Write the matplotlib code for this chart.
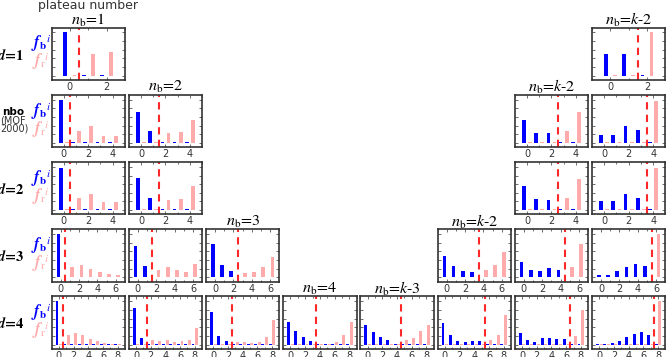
import numpy as np
import matplotlib
matplotlib.use('Agg')
import matplotlib.pyplot as plt
from matplotlib.ticker import MultipleLocator

plt.rcParams['mathtext.fontset'] = 'stix'
plt.rcParams['font.family'] = 'DejaVu Sans'

# bar heights, one list per panel
# tiny 0.008 entries are the little stubs below the threshold
row_names = ['d1', 'nbo', 'd2', 'd3', 'd4']
row_cols = {'d1': [0, 7], 'nbo': [0, 1, 6, 7], 'd2': [0, 1, 6, 7],
            'd3': [0, 1, 2, 5, 6, 7], 'd4': [0, 1, 2, 3, 4, 5, 6, 7]}
row_nb = {'d1': [1, 2], 'nbo': [1, 2, 3, 4], 'd2': [1, 2, 3, 4],
          'd3': [1, 2, 3, 4, 5, 6], 'd4': [1, 2, 3, 4, 5, 6, 7, 8]}

fb_d1 = [[0.50, 0.008, 0.008],
         [0.25, 0.25, 0.008]]
fr_d1 = [[0.008, 0.25, 0.27],
         [0.008, 0.008, 0.50]]

fb_nbo = [[0.50, 0.008, 0.008, 0.008, 0.008],
          [0.36, 0.135, 0.008, 0.008, 0.008],
          [0.27, 0.12, 0.11, 0.008, 0.008],
          [0.09, 0.09, 0.19, 0.145, 0.008]]
fr_nbo = [[0.008, 0.14, 0.19, 0.085, 0.085],
          [0.008, 0.008, 0.11, 0.125, 0.27],
          [0.008, 0.008, 0.008, 0.14, 0.36],
          [0.008, 0.008, 0.008, 0.008, 0.49]]

fb_d2 = [[0.49, 0.008, 0.008, 0.008, 0.008],
         [0.37, 0.14, 0.008, 0.008, 0.008],
         [0.275, 0.125, 0.115, 0.008, 0.008],
         [0.10, 0.10, 0.19, 0.145, 0.008]]
fr_d2 = [[0.008, 0.145, 0.19, 0.09, 0.09],
         [0.008, 0.008, 0.115, 0.125, 0.275],
         [0.008, 0.008, 0.008, 0.14, 0.36],
         [0.008, 0.008, 0.008, 0.008, 0.49]]

fb_d3 = [[0.50, 0.008, 0.008, 0.008, 0.008, 0.008, 0.008],
         [0.367, 0.129, 0.008, 0.008, 0.008, 0.008, 0.008],
         [0.39, 0.14, 0.072, 0.008, 0.008, 0.008, 0.008],
         [0.246, 0.136, 0.076, 0.061, 0.008, 0.008, 0.008],
         [0.174, 0.08, 0.076, 0.11, 0.08, 0.008, 0.008],
         [0.023, 0.027, 0.076, 0.114, 0.159, 0.133, 0.008]]
fr_d3 = [[0.008, 0.12, 0.14, 0.10, 0.064, 0.034, 0.023],
         [0.008, 0.008, 0.083, 0.114, 0.083, 0.064, 0.155],
         [0.008, 0.008, 0.008, 0.053, 0.06, 0.125, 0.235],
         [0.008, 0.008, 0.008, 0.008, 0.08, 0.144, 0.288],
         [0.008, 0.008, 0.008, 0.008, 0.008, 0.125, 0.383],
         [0.008, 0.008, 0.008, 0.008, 0.008, 0.008, 0.504]]

fb_d4 = [[0.50, 0.008, 0.008, 0.008, 0.008, 0.008, 0.008, 0.008, 0.008],
         [0.424, 0.076, 0.008, 0.008, 0.008, 0.008, 0.008, 0.008, 0.008],
         [0.371, 0.098, 0.042, 0.008, 0.008, 0.008, 0.008, 0.008, 0.008],
         [0.265, 0.155, 0.086, 0.045, 0.008, 0.008, 0.008, 0.008, 0.008],
         [0.22, 0.144, 0.087, 0.049, 0.011, 0.008, 0.008, 0.008, 0.008],
         [0.25, 0.106, 0.042, 0.027, 0.045, 0.042, 0.008, 0.008, 0.008],
         [0.136, 0.057, 0.034, 0.072, 0.072, 0.068, 0.068, 0.008, 0.008],
         [0.008, 0.008, 0.019, 0.038, 0.087, 0.117, 0.144, 0.106, 0.008]]
fr_d4 = [[0.008, 0.11, 0.129, 0.11, 0.064, 0.038, 0.019, 0.008, 0.008],
         [0.008, 0.008, 0.053, 0.045, 0.053, 0.03, 0.045, 0.057, 0.189],
         [0.008, 0.008, 0.008, 0.034, 0.027, 0.015, 0.034, 0.091, 0.288],
         [0.008, 0.008, 0.008, 0.008, 0.009, 0.012, 0.03, 0.105, 0.26],
         [0.008, 0.008, 0.008, 0.008, 0.008, 0.049, 0.08, 0.152, 0.227],
         [0.008, 0.008, 0.008, 0.008, 0.008, 0.008, 0.049, 0.114, 0.345],
         [0.008, 0.008, 0.008, 0.008, 0.008, 0.008, 0.008, 0.102, 0.40],
         [0.008, 0.008, 0.008, 0.008, 0.008, 0.008, 0.008, 0.008, 0.504]]

fb_rows = {'d1': fb_d1, 'nbo': fb_nbo, 'd2': fb_d2, 'd3': fb_d3, 'd4': fb_d4}
fr_rows = {'d1': fr_d1, 'nbo': fr_nbo, 'd2': fr_d2, 'd3': fr_d3, 'd4': fr_d4}

# (row, col, label) of the plateau titles
titles = [(0, 0, '1'), (0, 7, 'k-2'), (1, 1, '2'), (1, 6, 'k-2'),
          (3, 2, '3'), (3, 5, 'k-2'), (4, 3, '4'), (4, 4, 'k-3')]

BLUE = '#0000ff'
PINK = '#ffabab'
RED = '#ff2828'
FRAME = '#333333'

W, H = 666, 357
fig = plt.figure(figsize=(W / 100, H / 100), dpi=100)


def px_axes(x, y, w, h):
    return fig.add_axes([x / W, 1 - (y + h) / H, w / W, h / H])


def draw_panel(ax, fb, fr, nb):
    k = len(fb)
    idx = np.arange(k)
    bw = min(3.7 * (k + 1) / ax_w, 0.4)
    ax.bar(idx - 0.25, fb, width=bw, color=BLUE)
    ax.bar(idx + 0.25, fr, width=bw, color=PINK)
    ax.axvline(nb - 0.5, color=RED, ls=(0, (3.5, 2.5)), lw=1.5)
    ax.set_xlim(-1, k)
    ax.set_ylim(-0.049, 0.557)
    ax.xaxis.set_major_locator(MultipleLocator(2))
    ax.xaxis.set_minor_locator(MultipleLocator(1))
    ax.yaxis.set_major_locator(MultipleLocator(0.1))
    ax.set_yticklabels([])
    ax.tick_params(which='both', direction='in', top=True, right=True,
                   color='#555555', width=0.6, labelsize=7, pad=1.5,
                   labelcolor='#333333')
    ax.tick_params(which='major', length=2.5)
    ax.tick_params(which='minor', length=1.5)
    for s in ax.spines.values():
        s.set_color(FRAME)
        s.set_linewidth(1.2)


col_x0, col_dx, ax_w = 51.5, 77.2, 73.5
row_y0, row_dy, ax_h = 27.5, 67.2, 52.5

for r, name in enumerate(row_names):
    for j, c in enumerate(row_cols[name]):
        ax = px_axes(col_x0 + c * col_dx, row_y0 + r * row_dy, ax_w, ax_h)
        draw_panel(ax, fb_rows[name][j], fr_rows[name][j], row_nb[name][j])

    top = row_y0 + r * row_dy
    fig.text(41 / W, 1 - (top + 16.5) / H, r'$\mathbfit{f}_{\mathbf{b}}{}^{i}$',
             color=BLUE, fontsize=11.5, ha='center', va='center')
    fig.text(41 / W, 1 - (top + 34.5) / H, r'$\mathbfit{f}_{\mathrm{r}}{}^{i}$',
             color=PINK, fontsize=11.5, ha='center', va='center')
    if name == 'nbo':
        fig.text(2 / W, 1 - (top + 17) / H, 'nbo', fontsize=7.5, weight='bold',
                 ha='left', va='center')
        fig.text(0 / W, 1 - (top + 26) / H, '(MOF', fontsize=7,
                 ha='left', va='center', color='#333333')
        fig.text(0 / W, 1 - (top + 34) / H, '2000)', fontsize=7,
                 ha='left', va='center', color='#333333')
    else:
        fig.text(24.5 / W, 1 - (top + 27.5) / H,
                 r'$\mathbfit{d}$=' + name[1], family='STIXGeneral',
                 weight='bold', fontsize=10.5, ha='right', va='center')

for r, c, lab in titles:
    xc = col_x0 + c * col_dx + ax_w / 2
    yc = row_y0 + r * row_dy - 7.5
    if lab.startswith('k'):
        txt = r'$n_{\mathrm{b}}$=$k$' + lab[1:]
    else:
        txt = r'$n_{\mathrm{b}}$=' + lab
    fig.text(xc / W, 1 - yc / H, txt, fontsize=11.5, ha='center', va='center',
             family='STIXGeneral')

fig.text((col_x0 + ax_w / 2) / W, 1 - 6 / H, 'plateau number', fontsize=9,
         ha='center', va='center', color='#333333')

fig.savefig('out.png', dpi=100)
